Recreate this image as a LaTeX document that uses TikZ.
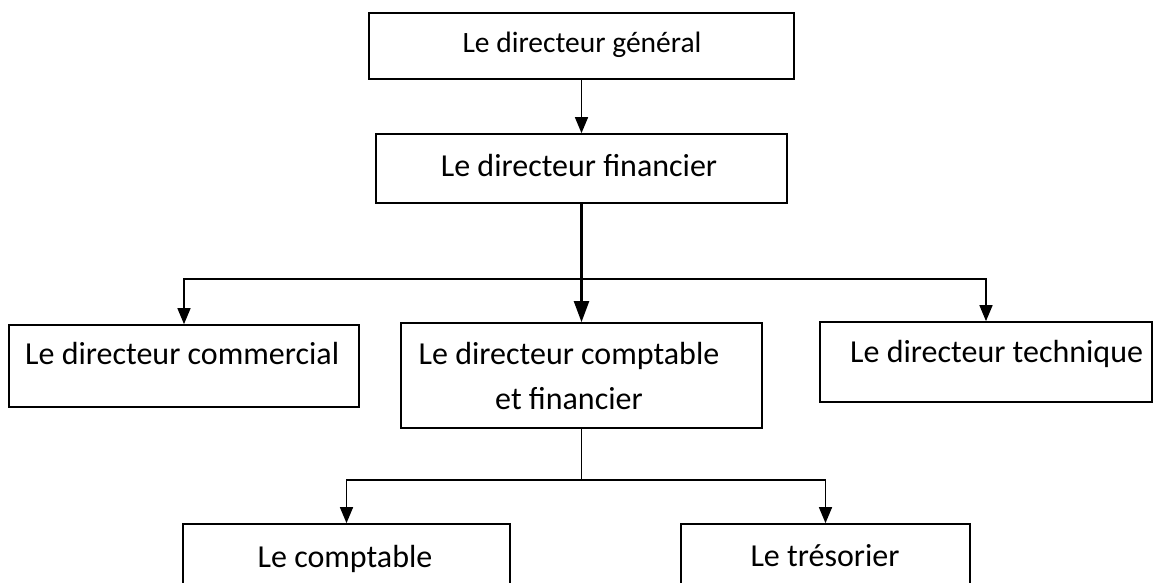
\documentclass[tikz,border=0pt]{standalone}
\usepackage{fontspec}
\setmainfont{Carlito}
\usetikzlibrary{arrows.meta}
\tikzset{
  box/.style={draw=black, line width=1.7pt, rectangle, inner sep=0pt, fill=white},
  lbl/.style={inner sep=0pt, font=\fontsize{32}{45}\selectfont},
  conn/.style={draw=black, line width=1.5pt},
  arr/.style={conn, -{Triangle[length=16pt,width=13pt]}},
  bigarr/.style={draw=black, line width=2.2pt, -{Triangle[length=21pt,width=15pt]}}
}
\begin{document}
\begin{tikzpicture}[x=1pt,y=-1pt]
\useasboundingbox[fill=white] (0,0) rectangle (1154,582);
\clip (0,0) rectangle (1154,582);
% boxes
\node[box, minimum width=425pt, minimum height=66pt] (dg) at (581.5,46) {};
\node[box, minimum width=411pt, minimum height=69pt] (df) at (581.5,168.5) {};
\node[box, minimum width=350pt, minimum height=82pt] (dcom) at (184,366) {};
\node[box, minimum width=361pt, minimum height=105pt] (dcf) at (581.5,375.5) {};
\node[box, minimum width=332pt, minimum height=80pt] (dt) at (986,362) {};
\node[box, minimum width=327pt, minimum height=76pt] (cpt) at (346.5,562) {};
\node[box, minimum width=289pt, minimum height=76pt] (tres) at (825.5,562) {};
% texts
\node[lbl, font=\fontsize{29.5}{35}\selectfont, anchor=base] (tdg) at (582,52) {Le directeur général};
\node[lbl, anchor=base] (tdf) at (579,176) {Le directeur financier};
\node[lbl, anchor=base west] (tdcom) at (25,364) {Le directeur commercial};
\node[lbl, anchor=base, align=center] (tdcf) at (569,409) {Le directeur comptable\\et financier};
\node[lbl, anchor=base west] (tdt) at (850,362) {Le directeur technique};
\node[lbl, anchor=base] (tcpt) at (345,567) {Le comptable};
\node[lbl, anchor=base] (ttres) at (825,566) {Le trésorier};
% junctions
\coordinate (j1) at (dcf.north |- 0,279);
\coordinate (j2) at (dcf.south |- 0,480);
% connectors
\draw[arr] (dg.south) -- (df.north);
\draw[bigarr] (df.south) -- (dcf.north);
\draw[arr] (j1) -| (dcom.north);
\draw[arr] (j1) -| (dt.north);
\draw[conn] (dcf.south) -- (j2);
\draw[arr] (j2) -| (cpt.north);
\draw[arr] (j2) -| (tres.north);
\end{tikzpicture}
\end{document}
